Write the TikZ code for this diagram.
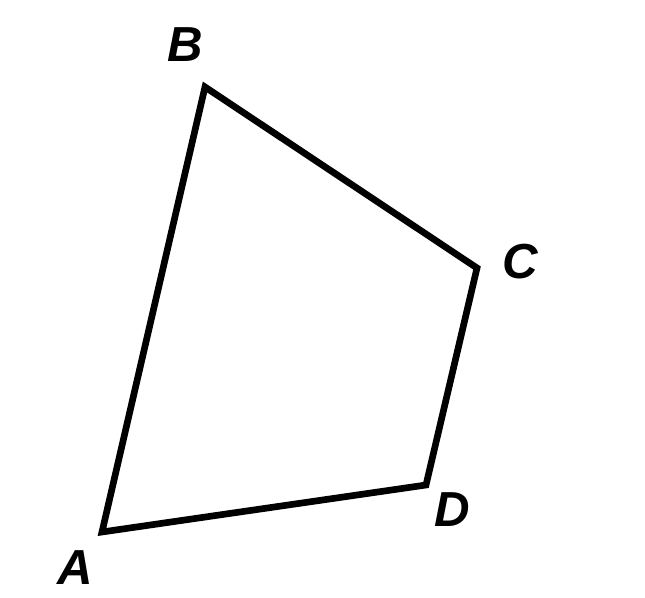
\documentclass[tikz,border=0pt]{standalone}
\usepackage{fontspec}
\setmainfont{Liberation Sans}
\begin{document}
\begin{tikzpicture}[vertexlabel/.style={font=\fontsize{28}{30}\selectfont\bfseries\itshape}]
  \useasboundingbox (0,0) rectangle (12.9,11.94);
  \coordinate (A) at (2.04, 1.30);
  \coordinate (B) at (4.10, 10.20);
  \coordinate (C) at (9.54, 6.58);
  \coordinate (D) at (8.52, 2.24);
  \draw[line width=3.8pt, line join=miter] (A) -- (B) -- (C) -- (D) -- cycle;
  \node[vertexlabel] (labA) at (1.50, 0.58) {A};
  \node[vertexlabel] (labB) at (3.70, 11.04) {B};
  \node[vertexlabel] (labC) at (10.40, 6.70) {C};
  \node[vertexlabel] (labD) at (9.04, 1.74) {D};
\end{tikzpicture}
\end{document}
